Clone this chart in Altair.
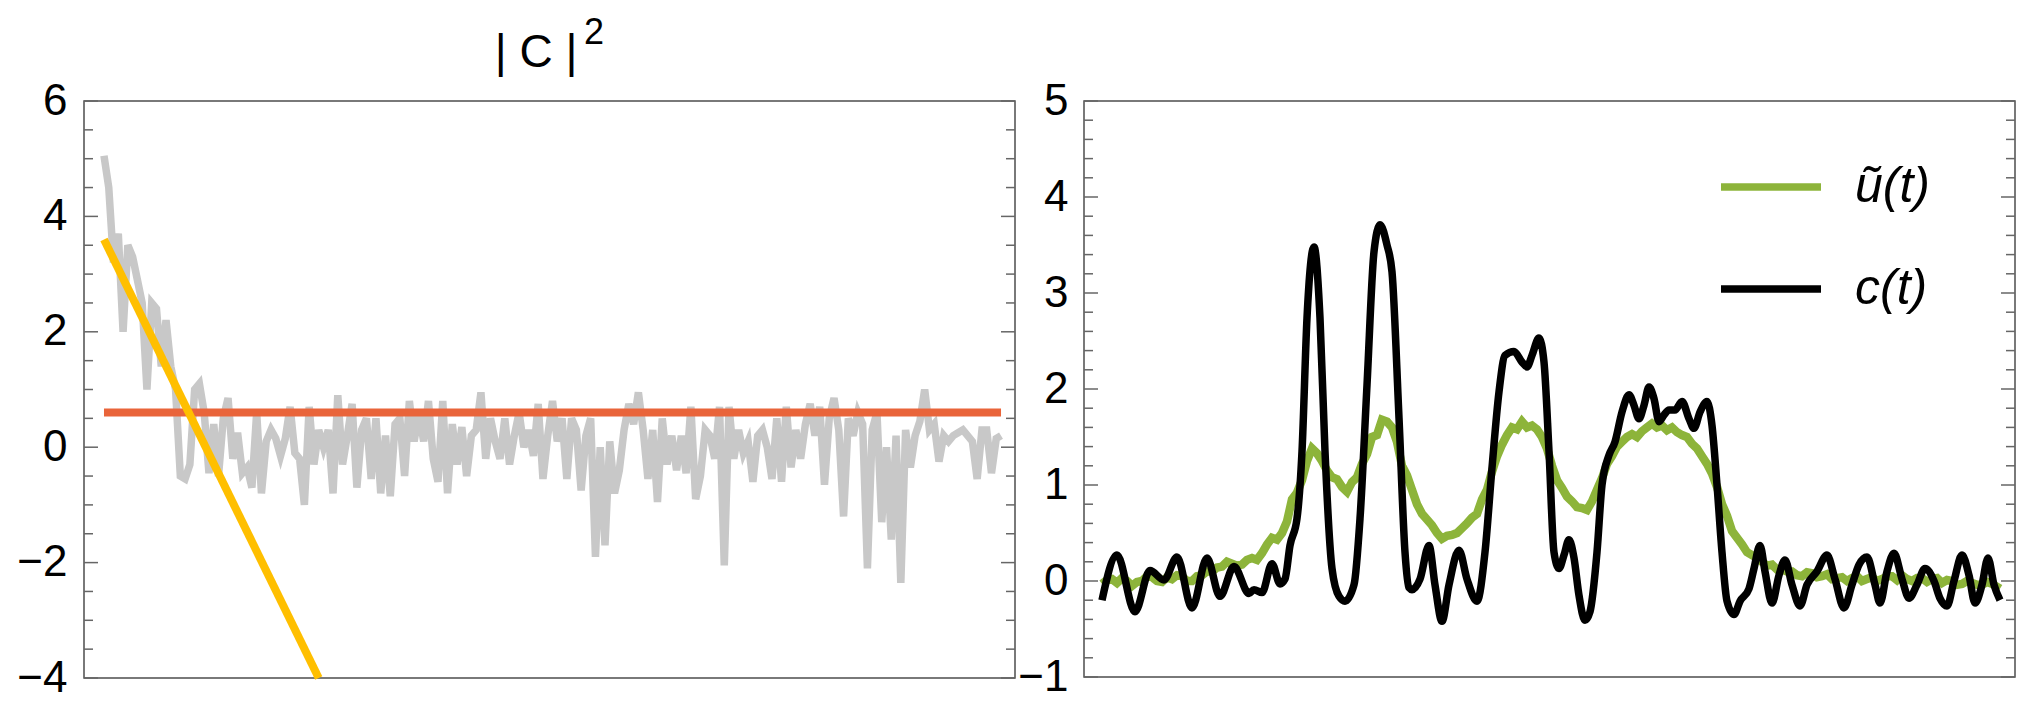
import altair as alt
import pandas as pd

# ---------------- data ----------------
grey_vals = [
    5.05, 4.5, 3.2, 3.7, 2.0, 3.5, 3.3, 2.9, 2.5, 1.0,
    2.5, 2.4, 1.4, 2.2, 1.4, 1.0, -0.5, -0.55, -0.3, 1.0,
    1.1, 0.6, -0.45, 0.4, -0.5, 0.5, 0.85, -0.2, 0.25, -0.45,
    -0.35, -0.7, 0.6, -0.8, 0.1, 0.3, 0.15, -0.15, 0.15, 0.7,
    -0.1, -0.2, -1.0, 0.7, -0.3, 0.3, 0.0, 0.3, -0.8, 0.9,
    -0.3, 0.2, 0.75, -0.7, 0.3, 0.5, -0.55, 0.5, -0.8, 0.2,
    -0.85, 0.4, 0.5, -0.5, 0.8, 0.1, 0.6, 0.1, 0.8, -0.2,
    -0.6, 0.8, -0.8, 0.4, -0.3, 0.35, -0.5, 0.2, 0.3, 0.95,
    -0.2, 0.5, 0.1, -0.2, 0.5, -0.3, 0.2, 0.6, 0.0, 0.3,
    -0.15, 0.75, -0.55, 0.2, 0.8, 0.1, 0.5, -0.55, 0.5, 0.3,
    -0.75, 0.2, 0.5, -1.9, 0.0, -1.7, 0.1, -0.8, -0.4, 0.3,
    0.75, 0.4, 0.95, 0.3, -0.55, 0.3, -0.95, 0.5, -0.3, 0.2,
    -0.4, 0.2, -0.45, 0.7, -0.9, -0.5, 0.3, 0.2, -0.2, 0.7,
    -2.05, 0.7, -0.2, 0.3, -0.1, 0.1, -0.6, 0.2, 0.3, 0.0,
    -0.55, 0.5, -0.6, 0.7, -0.35, 0.3, -0.2, 0.4, 0.75, 0.2,
    0.7, -0.65, 0.5, 0.85, 0.3, -1.2, 0.5, 0.2, 0.6, 0.4,
    -2.1, 0.3, 0.6, -1.3, 0.0, -1.6, 0.2, -2.35, 0.3, -0.35,
    0.2, 0.45, 1.0, 0.3, 0.4, -0.25, 0.2, 0.1, 0.2, 0.25,
    0.3, 0.2, 0.1, -0.55, 0.3, 0.3, -0.45, 0.15, 0.2,
]
level_x = [0, 188]
level_y = [0.6, 0.6]
fit_x = [0, 45]
fit_y = [3.6, -4.0]

c_t = [0, 15, 33, 48, 62, 75, 90, 105, 118, 132, 147, 152, 160, 170, 178, 183,
       188, 195, 200, 205, 212, 218, 223, 230, 237, 243, 252, 258, 265, 272,
       278, 285, 290, 297, 303, 307, 310, 318, 327, 333, 340, 347, 357, 365,
       375, 383, 390, 397, 403, 412, 420, 425, 430, 437, 442, 447, 452, 457,
       462, 467, 472, 477, 483, 488, 495, 500, 507, 513, 520, 527, 532, 537,
       542, 547, 552, 557, 562, 567, 573, 580, 587, 592, 598, 605, 610, 615,
       620, 625, 632, 638, 647, 652, 658, 663, 670, 677, 683, 690, 698, 705,
       715, 725, 733, 742, 750, 757, 765, 773, 778, 785, 792, 800, 807, 815,
       823, 832, 838, 845, 852, 860, 867, 873, 880, 886, 892, 898]
c_v = [-0.2, 0.27, -0.32, 0.11, 0.01, 0.25, -0.28, 0.24, -0.16, 0.15, -0.13,
       -0.09, -0.12, 0.18, -0.03, 0.02, 0.37, 0.65, 1.35, 2.74, 3.48, 2.74,
       1.35, 0.13, -0.16, -0.21, -0.04, 0.65, 2.04, 3.43, 3.71, 3.5, 3.22,
       1.7, 0.3, -0.07, -0.09, 0.02, 0.37, -0.04, -0.42, -0.04, 0.32, 0.02,
       -0.21, 0.3, 1.18, 1.97, 2.35, 2.39, 2.28, 2.23, 2.35, 2.53, 2.28, 1.35,
       0.3, 0.13, 0.27, 0.43, 0.24, -0.15, -0.41, -0.32, 0.3, 1.0, 1.31, 1.45,
       1.76, 1.94, 1.83, 1.69, 1.83, 2.02, 1.9, 1.66, 1.73, 1.78, 1.78, 1.87,
       1.69, 1.59, 1.76, 1.87, 1.62, 1.0, 0.3, -0.21, -0.35, -0.21, -0.08,
       0.13, 0.37, 0.1, -0.23, 0.06, 0.22, -0.04, -0.26, -0.04, 0.1, 0.27,
       0.02, -0.28, -0.04, 0.17, 0.25, -0.04, -0.23, 0.1, 0.29, 0.02, -0.18,
       -0.04, 0.13, 0.0, -0.18, -0.26, 0.0, 0.27, 0.06, -0.23, -0.04, 0.24,
       -0.04, -0.2]

u_t = [0, 5, 10, 15, 20, 25, 30, 35, 40, 45, 50, 55, 60, 65, 70, 75, 80, 85,
       90, 95, 100, 105, 110, 115, 120, 125, 130, 135, 140, 145, 150, 155, 160,
       165, 170, 175, 180, 185, 190, 195, 200, 205, 210, 215, 220, 225, 230,
       235, 240, 245, 250, 255, 260, 265, 270, 275, 280, 285, 290, 295, 300,
       305, 310, 315, 320, 325, 330, 335, 340, 345, 350, 355, 360, 365, 370,
       375, 380, 385, 390, 395, 400, 405, 410, 415, 420, 425, 430, 435, 440,
       445, 450, 455, 460, 465, 470, 475, 480, 485, 490, 495, 500, 505, 510,
       515, 520, 525, 530, 535, 540, 545, 550, 555, 560, 565, 570, 575, 580,
       585, 590, 595, 600, 605, 610, 615, 620, 625, 630, 635, 640, 645, 650,
       655, 660, 665, 670, 675, 680, 685, 690, 695, 700, 705, 710, 715, 720,
       725, 730, 735, 740, 745, 750, 755, 760, 765, 770, 775, 780, 785, 790,
       795, 800, 805, 810, 815, 820, 825, 830, 835, 840, 845, 850, 855, 860,
       865, 870, 875, 880, 885, 890, 895, 898]
u_v = [-0.03, 0.01, 0.02, -0.02, 0.03, 0.0, -0.05, -0.01, 0.0, 0.05, 0.04, 0.0,
       -0.01, 0.04, 0.02, 0.06, 0.05, 0.0, 0.0, 0.05, 0.06, 0.1, 0.1, 0.14,
       0.15, 0.2, 0.18, 0.16, 0.17, 0.22, 0.24, 0.22, 0.29, 0.38, 0.45, 0.43,
       0.5, 0.62, 0.85, 0.92, 1.05, 1.25, 1.38, 1.33, 1.25, 1.15, 1.08, 1.06,
       0.98, 0.93, 1.03, 1.08, 1.22, 1.32, 1.5, 1.52, 1.68, 1.66, 1.6, 1.45,
       1.2, 1.1, 0.95, 0.8, 0.7, 0.64, 0.58, 0.5, 0.44, 0.47, 0.48, 0.5, 0.55,
       0.6, 0.66, 0.7, 0.85, 0.95, 1.14, 1.3, 1.42, 1.52, 1.6, 1.58, 1.66, 1.6,
       1.62, 1.58, 1.5, 1.38, 1.2, 1.05, 0.97, 0.88, 0.83, 0.77, 0.76, 0.74,
       0.83, 0.95, 1.07, 1.22, 1.3, 1.4, 1.45, 1.5, 1.53, 1.5, 1.56, 1.6, 1.64,
       1.6, 1.62, 1.57, 1.6, 1.55, 1.52, 1.5, 1.43, 1.38, 1.3, 1.22, 1.12,
       0.98, 0.8, 0.68, 0.52, 0.45, 0.38, 0.3, 0.27, 0.24, 0.2, 0.16, 0.17,
       0.12, 0.12, 0.1, 0.1, 0.06, 0.05, 0.09, 0.08, 0.04, 0.05, 0.07, 0.02,
       0.03, 0.04, 0.0, 0.03, 0.05, 0.0, 0.02, 0.04, 0.0, 0.02, 0.05, 0.05,
       0.01, 0.06, 0.02, 0.0, 0.03, 0.03, -0.01, 0.02, 0.03, -0.02, 0.01, 0.0,
       -0.04, -0.03, 0.0, -0.02, -0.04, -0.04, -0.01, -0.03, -0.06, -0.08]

series_names = ["ũ(t)", "c(t)"]

left_major = [-4, -2, 0, 2, 4, 6]
left_minor = [v / 2 for v in range(-7, 12) if v % 4 != 0]
right_major = [-1, 0, 1, 2, 3, 4, 5]
right_minor = [round(k * 0.2, 1) for k in range(-4, 25) if k % 5 != 0]

# ---------------- styling ----------------
FONT = "Liberation Sans"
W = 931
H_L = 577
H_R = 576
GREY = "#c8c8c8"
ORANGE = "#e9643a"
YELLOW = "#ffbf00"
GREEN = "#8db43a"
TICK = "#666666"
MAJ, MIN = 14, 9


def y_left():
    return alt.Y("y:Q", scale=alt.Scale(domain=[-4, 6], nice=False, zero=False),
                 axis=alt.Axis(values=left_major, format="d", labelFontSize=44,
                               labelFont=FONT, labelColor="black", labelPadding=17,
                               ticks=False, domain=False, grid=False, title=None))


def y_right():
    return alt.Y("y:Q", scale=alt.Scale(domain=[-1, 5], nice=False, zero=False),
                 axis=alt.Axis(values=right_major, format="d", labelFontSize=44,
                               labelFont=FONT, labelColor="black", labelPadding=16,
                               ticks=False, domain=False, grid=False, title=None))


x_left = alt.X("x:Q", scale=alt.Scale(domain=[-4.19, 190.93], nice=False, zero=False), axis=None)
x_right = alt.X("x:Q", scale=alt.Scale(domain=[-18, 913], nice=False, zero=False), axis=None)

# ---------------- left panel ----------------
grey_df = pd.DataFrame({"x": list(range(len(grey_vals))), "y": grey_vals})
level_df = pd.DataFrame({"x": level_x, "y": level_y})
fit_df = pd.DataFrame({"x": fit_x, "y": fit_y})

grey = alt.Chart(grey_df).mark_line(color=GREY, strokeWidth=7.5, strokeJoin="miter").encode(x=x_left, y=y_left())
level = alt.Chart(level_df).mark_line(color=ORANGE, strokeWidth=8).encode(x=x_left, y=y_left())
fit = alt.Chart(fit_df).mark_line(color=YELLOW, strokeWidth=8).encode(x=x_left, y=y_left())


def tick_layers(vals_major, vals_minor, yfun, width):
    out = []
    for vals, ln in ((vals_major, MAJ), (vals_minor, MIN)):
        df = pd.DataFrame({"y": vals})
        out.append(alt.Chart(df).mark_rule(color=TICK, strokeWidth=1.5).encode(
            y=yfun(), x=alt.value(0), x2=alt.value(ln)))
        out.append(alt.Chart(df).mark_rule(color=TICK, strokeWidth=1.5).encode(
            y=yfun(), x=alt.value(width), x2=alt.value(width - ln)))
    return out


title_main = alt.Chart(pd.DataFrame({"t": ["| C |"]})).mark_text(
    font=FONT, fontSize=46, align="center", baseline="alphabetic", color="black"
).encode(text="t:N", x=alt.value(452), y=alt.value(-34))
title_sup = alt.Chart(pd.DataFrame({"t": ["2"]})).mark_text(
    font=FONT, fontSize=36, align="left", baseline="alphabetic", color="black"
).encode(text="t:N", x=alt.value(500), y=alt.value(-57))

left = alt.layer(grey, level, fit, *tick_layers(left_major, left_minor, y_left, W),
                 title_main, title_sup).properties(width=W, height=H_L)

# ---------------- right panel ----------------
u_df = pd.DataFrame({"x": u_t, "y": u_v, "series": series_names[0]})
c_df = pd.DataFrame({"x": c_t, "y": c_v, "series": series_names[1]})

color = alt.Color("series:N",
                  scale=alt.Scale(domain=series_names, range=[GREEN, "black"]),
                  legend=alt.Legend(orient="none", legendX=1633, legendY=32, title=None,
                                    symbolType="stroke", symbolSize=10000,
                                    symbolStrokeWidth=7.5, labelFontSize=50,
                                    labelFont=FONT, labelFontStyle="italic",
                                    labelColor="black", labelOffset=30,
                                    rowPadding=23, padding=0))

u_line = alt.Chart(u_df).mark_line(strokeWidth=8.5).encode(x=x_right, y=y_right(), color=color)
c_line = alt.Chart(c_df).mark_line(strokeWidth=7.5, interpolate="monotone").encode(
    x=x_right, y=y_right(), color=color)

right = alt.layer(u_line, c_line, *tick_layers(right_major, right_minor, y_right, W)
                  ).properties(width=W, height=H_R)

chart = alt.hconcat(left, right, spacing=69, bounds="flush").properties(
    padding={"left": 8, "top": 6, "right": 5, "bottom": 5},
).configure_view(stroke="#4d4d4d", strokeWidth=1.5)

chart.save("out.html", embed_options={"renderer": "svg", "actions": False})
